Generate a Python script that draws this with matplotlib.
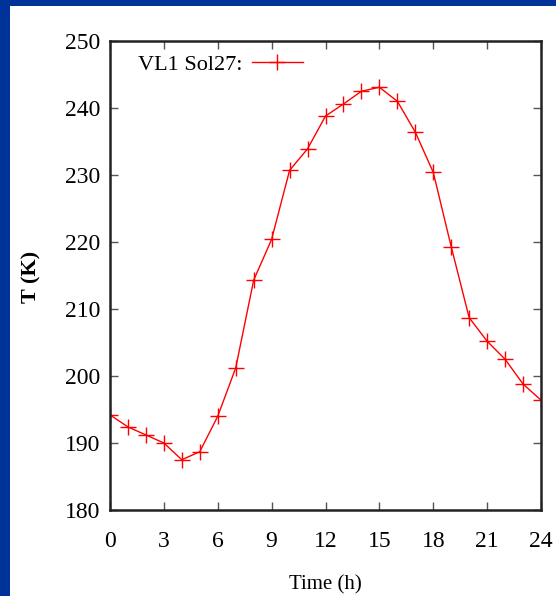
import matplotlib.pyplot as plt
from matplotlib.patches import Rectangle

hours = list(range(25))
temps = [194.2, 192.4, 191.2, 190.0, 187.5, 188.7, 194.0, 201.2, 214.3, 220.4,
         230.7, 233.9, 238.8, 240.6, 242.5, 243.1, 241.0, 236.4, 230.4, 219.3,
         208.7, 205.2, 202.5, 198.8, 196.4]
xticks = list(range(0, 25, 3))
yticks = list(range(180, 251, 10))

plt.rcParams['font.family'] = ['Liberation Serif', 'DejaVu Serif']

fig = plt.figure(figsize=(5.56, 5.96), dpi=100)
fig.patch.set_facecolor('white')
# blue frame on top and left
fig.patches.append(Rectangle((0, 0), 10 / 556, 1, transform=fig.transFigure,
                             facecolor='#003399', edgecolor='none'))
fig.patches.append(Rectangle((0, 1 - 6 / 596), 1, 6 / 596, transform=fig.transFigure,
                             facecolor='#003399', edgecolor='none'))

ax = fig.add_axes([110 / 556, 1 - 510 / 596, 431 / 556, 469 / 596])
ax.plot(hours, temps, color='red', lw=1, marker='+', ms=11, mew=1,
        label='VL1 Sol27:')
ax.set_xlim(0, 24)
ax.set_ylim(180, 250)
ax.set_xticks(xticks)
ax.set_yticks(yticks)
ax.tick_params(direction='in', length=6, width=1, top=True, right=True,
               labelsize=17, color='#555555')
ax.tick_params(axis='x', pad=15)
ax.tick_params(axis='y', pad=7)
for s in ax.spines.values():
    s.set_linewidth(1.8)
    s.set_color('#222222')

ax.set_xlabel('Time (h)', fontsize=15)
ax.xaxis.set_label_coords((325 - 110) / 431, -(575 - 510) / 469)
ax.set_ylabel('T (K)', fontsize=16, fontweight='bold')
ax.yaxis.set_label_coords(-(110 - 41) / 431, (510 - 277) / 469)

leg = ax.legend(loc='upper left', frameon=False, fontsize=16, markerfirst=False,
                handlelength=2.3, handletextpad=0.4,
                bbox_to_anchor=(0.035, 1.0), borderaxespad=0.2)

fig.savefig('out.png', dpi=100)
